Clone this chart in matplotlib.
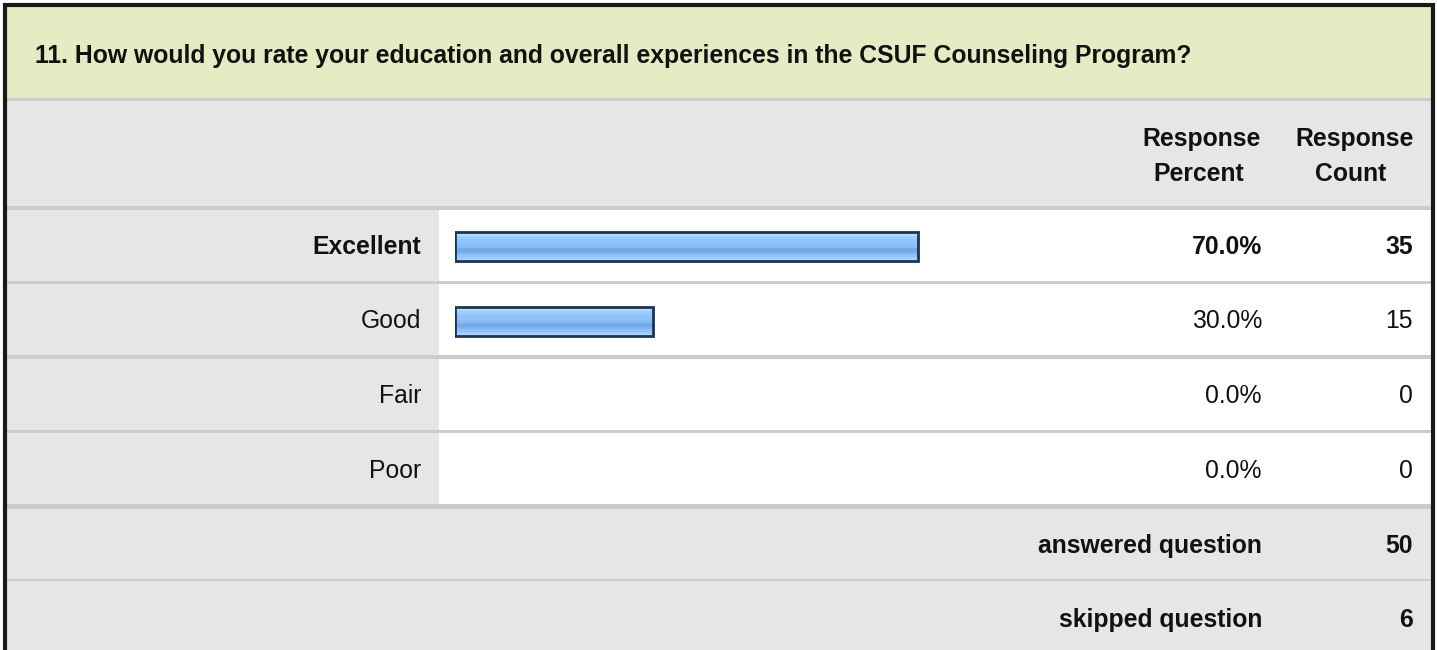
import numpy as np
import matplotlib.pyplot as plt
from matplotlib.patches import Rectangle
from matplotlib.colors import LinearSegmentedColormap

plt.rcParams['font.family'] = ['Liberation Sans', 'DejaVu Sans']

# Data
title = "11. How would you rate your education and overall experiences in the CSUF Counseling Program?"
categories = ['Excellent', 'Good', 'Fair', 'Poor']
percents = [70.0, 30.0, 0.0, 0.0]
counts = [35, 15, 0, 0]
answered = 50
skipped = 6

W, H = 1437, 650
fig = plt.figure(figsize=(W / 100, H / 100), dpi=100)
fig.patch.set_facecolor('white')

# background axes in pixel coords, used only for the table layout
bg = fig.add_axes([0, 0, 1, 1])
bg.set_xlim(0, W)
bg.set_ylim(H, 0)
bg.axis('off')

green = '#e5ebc3'
grey = '#e6e6e6'
line = '#cccccc'
ink = '#111111'

# title band and header band
bg.add_patch(Rectangle((5, 5), 1428, 93, fc=green, ec='none'))
bg.add_patch(Rectangle((5, 98), 1428, 3, fc=line, ec='none'))
bg.add_patch(Rectangle((5, 101), 1428, 106, fc=grey, ec='none'))

# rows
row_top = 206
pitch = 74.5
lw_row = 3.5
for i in range(len(categories)):
    y0 = row_top + i * pitch
    bg.add_patch(Rectangle((5, y0), 1428, lw_row, fc=line, ec='none'))
    bg.add_patch(Rectangle((5, y0 + lw_row), 434, pitch - lw_row, fc=grey, ec='none'))
    bg.add_patch(Rectangle((439, y0 + lw_row), 994, pitch - lw_row, fc='white', ec='none'))

# summary rows
y_sum = row_top + len(categories) * pitch
bg.add_patch(Rectangle((5, y_sum), 1428, 4.5, fc=line, ec='none'))
bg.add_patch(Rectangle((5, y_sum + 4.5), 1428, 70, fc=grey, ec='none'))
bg.add_patch(Rectangle((5, y_sum + 74.5), 1428, 2, fc=line, ec='none'))
bg.add_patch(Rectangle((5, y_sum + 76.5), 1428, H - y_sum - 76.5, fc=grey, ec='none'))

# outer border
bg.plot([5, 5, 1432.5, 1432.5], [H, 5, 5, H], color='#1a1a1a', lw=3.0,
        solid_joinstyle='miter', clip_on=False)

fs = 17.8
bg.text(35, 63, title, fontsize=fs, fontweight='bold', va='baseline', ha='left', color=ink)

bg.text(1202, 146, 'Response', fontsize=fs, fontweight='bold', ha='center', va='baseline', color=ink)
bg.text(1199, 181, 'Percent', fontsize=fs, fontweight='bold', ha='center', va='baseline', color=ink)
bg.text(1355, 146, 'Response', fontsize=fs, fontweight='bold', ha='center', va='baseline', color=ink)
bg.text(1351, 181, 'Count', fontsize=fs, fontweight='bold', ha='center', va='baseline', color=ink)

top_idx = int(np.argmax(percents))
for i, (cat, p, c) in enumerate(zip(categories, percents, counts)):
    yb = 254 + i * pitch
    wt = 'bold' if i == top_idx else 'normal'
    bg.text(421, yb, cat, fontsize=fs, fontweight=wt, ha='right', va='baseline', color=ink)
    bg.text(1262, yb, f'{p:.1f}%', fontsize=fs, fontweight=wt, ha='right', va='baseline', color=ink)
    bg.text(1413, yb, str(c), fontsize=fs, fontweight=wt, ha='right', va='baseline', color=ink)

bg.text(1262, 553, 'answered question', fontsize=fs, fontweight='bold', ha='right', va='baseline', color=ink)
bg.text(1413, 553, str(answered), fontsize=fs, fontweight='bold', ha='right', va='baseline', color=ink)
bg.text(1262, 627, 'skipped question', fontsize=fs, fontweight='bold', ha='right', va='baseline', color=ink)
bg.text(1413, 627, str(skipped), fontsize=fs, fontweight='bold', ha='right', va='baseline', color=ink)

# bar axes: x in percent, one slot per row
bar_left, bar_full = 455, 661
ax = fig.add_axes([bar_left / W, 1 - (row_top + lw_row + len(categories) * pitch) / H,
                   bar_full / W, (len(categories) * pitch) / H])
ax.set_xlim(0, 100)
ax.set_ylim(len(categories) - 0.5, -0.5)
ax.axis('off')
ax.patch.set_alpha(0)

grad = np.array([0.84, 0.74, 0.66, 0.62, 0.60, 0.60, 0.56, 0.48, 0.46, 0.52, 0.60, 0.66, 0.72])
cmap = LinearSegmentedColormap.from_list('bar', ['#6fa8e6', '#99ccff', '#d6ebff'])
bars = ax.barh(range(len(categories)), percents, height=0.385,
               color='#99ccff', edgecolor='#1c3456', linewidth=2.0)
for b, p in zip(bars, percents):
    if p <= 0:
        b.set_visible(False)
        continue
    im = ax.imshow(grad[:, None], cmap=cmap, vmin=0.45, vmax=0.85, aspect='auto',
                   extent=[0, p, b.get_y() + b.get_height(), b.get_y()],
                   interpolation='nearest', zorder=1)
    im.set_clip_path(b)
    b.set_facecolor('none')
    b.set_zorder(2)
ax.set_xlim(0, 100)
ax.set_ylim(len(categories) - 0.5, -0.5)

fig.savefig('out.png', dpi=100)
